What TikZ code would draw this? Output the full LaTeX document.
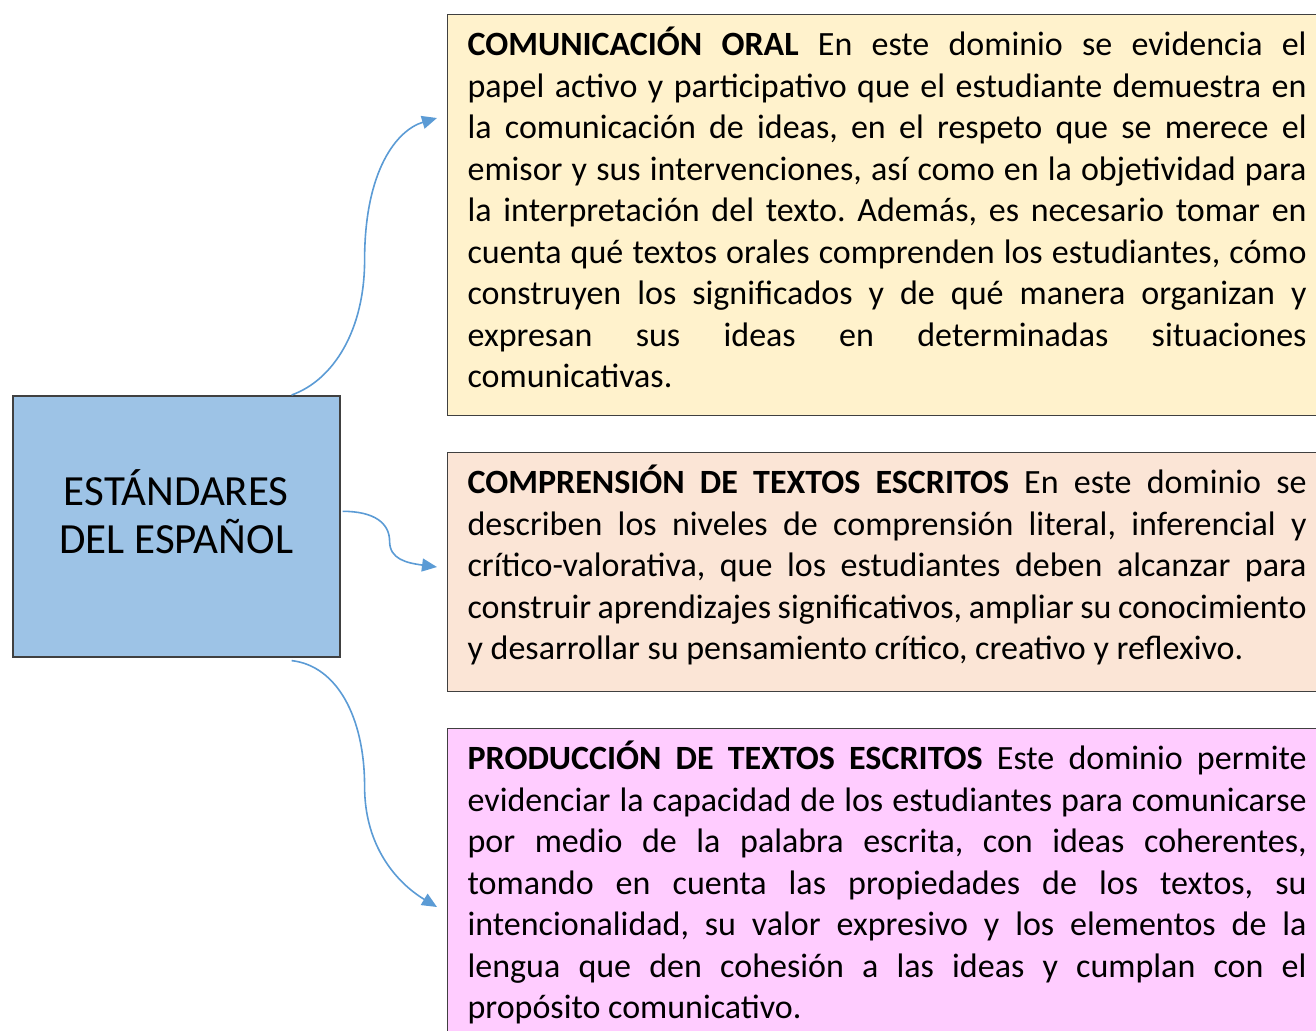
\documentclass[tikz,border=0pt]{standalone}
\usepackage{fontspec}
\setmainfont{Carlito}
\usepackage{tikz}
\usetikzlibrary{arrows.meta,calc}

\definecolor{azulcaja}{HTML}{9DC3E6}
\definecolor{fondooral}{HTML}{FFF2CC}
\definecolor{fondolect}{HTML}{FBE5D6}
\definecolor{fondoescr}{HTML}{FFCCFF}
\definecolor{flecha}{HTML}{5B9BD5}
\definecolor{borde}{HTML}{404040}
\frenchspacing

\begin{document}
\begin{tikzpicture}[
            x = 0.5pt, y = -0.5pt, % one unit = one pixel of the sheet
            > = {Triangle[length=7.5pt,width=6.5pt]}, % arrow head style
            caja/.style = {draw=borde, line width=0.6pt, anchor=north west,
                text width=419.5pt, inner xsep=10pt, inner ysep=8pt, text height=12.5pt,
                align=justify, font=\fontsize{17}{20.75}\selectfont},
            flujo/.style = {->, draw=flecha, line width=0.8pt}
        ]
\useasboundingbox (0,0) rectangle (1316,1030);
\clip (0,0) rectangle (1316,1030);

\node[draw=borde, fill=azulcaja, line width=0.8pt, anchor=north west,
      minimum width=163.5pt, minimum height=130.5pt, align=center,
      text height=33pt, text depth=5.5pt,
      font=\fontsize{21.5}{24}\selectfont] (std) at (12,395) {ESTÁNDARES\\DEL ESPAÑOL};

\node[caja, fill=fondooral, text depth=172pt] (oral) at (447,14)
  {\textbf{COMUNICACIÓN ORAL} En este dominio se evidencia el\linebreak
   papel activo y participativo que el estudiante demuestra en\linebreak
   la comunicación de ideas, en el respeto que se merece el\linebreak
   emisor y sus intervenciones, así como en la objetividad para\linebreak
   la interpretación del texto. Además, es necesario tomar en\linebreak
   cuenta qué textos orales comprenden los estudiantes, cómo\linebreak
   construyen los significados y de qué manera organizan y\linebreak
   expresan sus ideas en determinadas situaciones\linebreak
   comunicativas.};

\node[caja, fill=fondolect, text depth=91pt] (lect) at (447,452)
  {\textbf{COMPRENSIÓN DE TEXTOS ESCRITOS} En este dominio se\linebreak
   describen los niveles de comprensión literal, inferencial y\linebreak
   crítico-valorativa, que los estudiantes deben alcanzar para\linebreak
   construir aprendizajes significativos, ampliar su conocimiento\linebreak
   y desarrollar su pensamiento crítico, creativo y reflexivo.};

\node[caja, fill=fondoescr] (escr) at (447,728)
  {\textbf{PRODUCCIÓN DE TEXTOS ESCRITOS} Este dominio permite\linebreak
   evidenciar la capacidad de los estudiantes para comunicarse\linebreak
   por medio de la palabra escrita, con ideas coherentes,\linebreak
   tomando en cuenta las propiedades de los textos, su\linebreak
   intencionalidad, su valor expresivo y los elementos de la\linebreak
   lengua que den cohesión a las ideas y cumplan con el\linebreak
   propósito comunicativo.};

% connectors from the central box
\draw[flujo] ($(std.north east)+(-49,0)$) .. controls +(42,-15) and +(0,70) .. ++(73,-135)
   .. controls +(0,-90) and +(-40,12) .. ($(oral.north west)+(-10,104)$);
\draw[flujo] ($(std.east)+(2,-15)$) .. controls +(32,0) and +(0,-18) .. ++(47,30)
   .. controls +(0,18) and +(-30,-4) .. ($(lect.north west)+(-10,115)$);
\draw[flujo] ($(std.south east)+(-49,3)$) .. controls +(45,5) and +(0,-70) .. ++(73,126)
   .. controls +(0,60) and +(-40,-24) .. ($(escr.north west)+(-10,179)$);

\end{tikzpicture}
\end{document}
